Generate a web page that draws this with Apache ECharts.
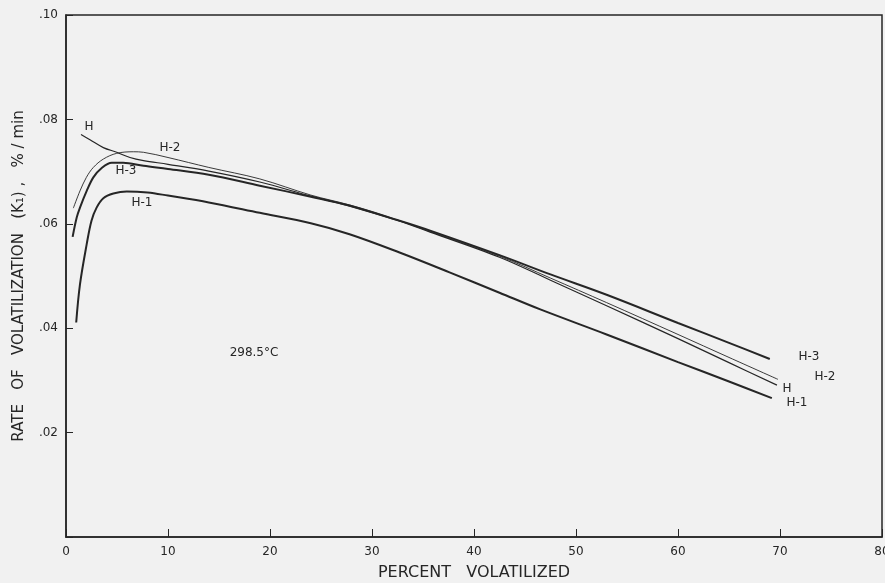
<!DOCTYPE html>
<html>
<head>
    <meta charset="utf-8">
    <title>Rate of volatilization</title>
    <script src="https://cdn.jsdelivr.net/npm/echarts@6/dist/echarts.min.js"></script>
    <style>
        html, body {margin:0;padding:0;background:#f1f1f1;}
        #main {width:885px;height:583px;}
    </style>
</head>
<body>
<div id="main"></div>
<script>
    // percent volatilized (x) and rate K1 (y)
    var h1X = [1.0, 1.37, 2.03, 2.5, 3.0, 3.66, 4.64, 5.95, 8, 10, 14, 19, 24, 27.8, 32.7, 37.6, 42.5, 46.5, 53, 60, 65, 69.2];
    var h1Y = [0.0411, 0.0484, 0.0561, 0.0606, 0.0631, 0.0649, 0.0658, 0.0662, 0.0660, 0.0654, 0.0641, 0.0621, 0.0601, 0.0580, 0.0545, 0.0507, 0.0468, 0.0436, 0.0388, 0.0335, 0.0298, 0.0266];

    var h3X = [0.65, 1.05, 1.37, 2.03, 2.68, 3.5, 4.48, 5.6, 7.6, 10, 14, 19, 24, 27.8, 32.7, 35.7, 42.5, 47.5, 53, 60, 65, 69];
    var h3Y = [0.0575, 0.0612, 0.0631, 0.0663, 0.0689, 0.0707, 0.0717, 0.0717, 0.0711, 0.0705, 0.0694, 0.0673, 0.0652, 0.0635, 0.0606, 0.0587, 0.0540, 0.0503, 0.0464, 0.0410, 0.0372, 0.0341];

    var h2X = [0.72, 1.37, 2.0, 2.68, 3.66, 4.97, 6.6, 7.6, 10, 14, 19, 24, 27.8, 32.7, 35.7, 42.5, 47.5, 53, 60, 65, 69.8];
    var h2Y = [0.0630, 0.0663, 0.0689, 0.0708, 0.0724, 0.0735, 0.0738, 0.0737, 0.0727, 0.0708, 0.0686, 0.0655, 0.0636, 0.0606, 0.0585, 0.0538, 0.0496, 0.0449, 0.0388, 0.0344, 0.0302];

    var hX = [1.47, 2.35, 3.66, 4.97, 6.27, 7.6, 10, 14, 19, 24, 27.8, 32.7, 35.7, 42.5, 47.5, 53, 60, 65, 69.7];
    var hY = [0.0771, 0.0761, 0.0746, 0.0737, 0.0727, 0.0721, 0.0714, 0.0701, 0.0680, 0.0653, 0.0634, 0.0605, 0.0584, 0.0536, 0.0492, 0.0443, 0.0380, 0.0334, 0.0291];

    var xTicks = [0, 10, 20, 30, 40, 50, 60, 70, 80];
    var yTicks = ['.02', '.04', '.06', '.08', '.10'];

    function pairs(xs, ys) {
        return xs.map(function (x, i) { return [x, ys[i]]; });
    }

    var ink = '#262626';
    var font = 'DejaVu Sans';

    function lineSeries(name, xs, ys, w) {
        return {
            name: name,
            type: 'line',
            data: pairs(xs, ys),
            smooth: 0.35,
            showSymbol: false,
            lineStyle: {color: ink, width: w},
            z: 3
        };
    }

    function label(text, x, y, size) {
        return {
            type: 'text',
            x: x, y: y,
            style: {
                text: text,
                fill: ink,
                font: (size || 12) + 'px "' + font + '"',
                textAlign: 'center',
                textVerticalAlign: 'middle'
            }
        };
    }

    var chart = echarts.init(document.getElementById('main'));
    chart.setOption({
        animation: false,
        backgroundColor: '#f1f1f1',
        grid: {
            left: 66, right: 3, top: 15, bottom: 46,
            outerBoundsMode: 'none',
            containLabel: false,
            show: true,
            borderColor: ink,
            borderWidth: 1.5
        },
        xAxis: {
            type: 'value',
            min: 0, max: 80, interval: 10,
            name: 'PERCENT   VOLATILIZED',
            nameLocation: 'middle',
            nameGap: 28,
            nameTextStyle: {color: ink, fontFamily: font, fontSize: 16},
            axisLine: {show: true, lineStyle: {color: ink, width: 1.5}},
            axisTick: {show: true, inside: true, length: 8, lineStyle: {color: ink}},
            axisLabel: {
                color: ink, fontFamily: font, fontSize: 12, margin: 9,
                formatter: function (v) { return xTicks.indexOf(v) >= 0 ? String(v) : ''; }
            },
            splitLine: {show: false}
        },
        yAxis: {
            type: 'value',
            min: 0, max: 0.1, interval: 0.02,
            name: 'RATE   OF   VOLATILIZATION   (K\u2081) ,   % / min',
            nameLocation: 'middle',
            nameGap: 39,
            nameTextStyle: {color: ink, fontFamily: font, fontSize: 15},
            axisLine: {show: true, lineStyle: {color: ink, width: 1.5}},
            axisTick: {show: true, inside: true, length: 7, lineStyle: {color: ink}},
            axisLabel: {
                color: ink, fontFamily: font, fontSize: 12, margin: 8,
                formatter: function (v) {
                    var i = Math.round(v / 0.02) - 1;
                    return i >= 0 ? yTicks[i] : '';
                }
            },
            splitLine: {show: false}
        },
        series: [
            lineSeries('H-1', h1X, h1Y, 2),
            lineSeries('H-3', h3X, h3Y, 2),
            lineSeries('H-2', h2X, h2Y, 0.9),
            lineSeries('H', hX, hY, 1.2)
        ],
        graphic: [
            label('H', 89, 127),
            label('H-2', 170, 148),
            label('H-3', 126, 171),
            label('H-1', 142, 203),
            label('H-3', 809, 357),
            label('H-2', 825, 377),
            label('H', 787, 389),
            label('H-1', 797, 403),
            label('298.5\u00b0C', 254, 353, 12)
        ]
    });
</script>
</body>
</html>
